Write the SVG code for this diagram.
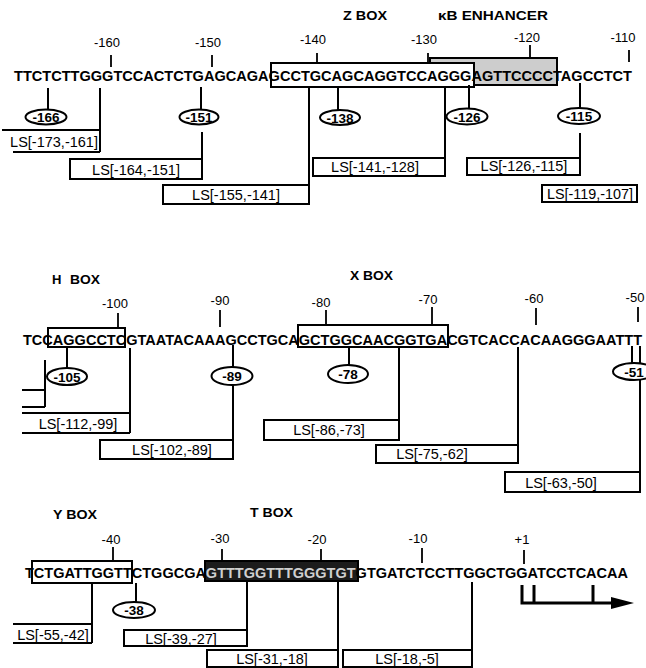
<svg xmlns="http://www.w3.org/2000/svg" width="646" height="668" viewBox="0 0 646 668">
<style>
.seq{font-family:"Liberation Sans",Arial,sans-serif;font-weight:bold;font-size:14.3px;fill:#000}
.tl{font-family:"Liberation Sans",Arial,sans-serif;font-size:13px;text-anchor:middle;fill:#000}
.el{font-family:"Liberation Sans",Arial,sans-serif;font-weight:bold;font-size:13.5px;text-anchor:middle;fill:#000}
.ls{font-family:"Liberation Sans",Arial,sans-serif;font-size:14.5px;text-anchor:middle;fill:#000}
.bl{font-family:"Liberation Sans",Arial,sans-serif;font-weight:bold;font-size:13px;fill:#000}
.ln{stroke:#000;stroke-width:2;fill:none}
.tk{stroke:#000;stroke-width:1.8;fill:none}
.box{fill:#fff;stroke:#000;stroke-width:2}
.ell{fill:#fff;stroke:#000;stroke-width:2}
</style>
<rect width="646" height="668" fill="#fff"/>

<!-- region boxes -->
<g id="kb-box"><rect x="430" y="58" width="127" height="27" fill="#cdcdcd" stroke="#000" stroke-width="2"/>
<text class="bl" x="438" y="20" textLength="110" lengthAdjust="spacingAndGlyphs">κB ENHANCER</text></g>
<g id="z-box"><rect x="271" y="63" width="203" height="24" class="box"/>
<text class="bl" x="343" y="20" textLength="44" lengthAdjust="spacingAndGlyphs">Z BOX</text></g>
<g id="h-box"><rect x="48" y="328" width="77" height="19" class="box"/>
<text class="bl" y="284"><tspan x="52">H</tspan><tspan x="70" textLength="30" lengthAdjust="spacingAndGlyphs">BOX</tspan></text></g>
<g id="x-box"><rect x="298" y="325" width="150" height="22" class="box"/>
<text class="bl" x="350" y="280" textLength="43" lengthAdjust="spacingAndGlyphs">X BOX</text></g>
<g id="y-box"><rect x="32" y="561" width="100" height="22" class="box"/>
<text class="bl" x="53" y="519" textLength="44" lengthAdjust="spacingAndGlyphs">Y BOX</text></g>
<g id="t-box"><rect x="205" y="561" width="153" height="20" fill="#1c1c1c" stroke="#000" stroke-width="2"/>
<text class="bl" x="250" y="517" textLength="43" lengthAdjust="spacingAndGlyphs">T BOX</text></g>

<!-- sequences -->
<g id="seq1"><text class="seq" x="14" y="81" textLength="618" lengthAdjust="spacingAndGlyphs">TTCTCTTGGGTCCACTCTGAGCAGAGCCTGCAGCAGGTCCAGGGAGTTCCCCTAGCCTCT</text>
<text class="tl" x="107" y="47">-160</text><text class="tl" x="208" y="47">-150</text><text class="tl" x="313" y="44">-140</text>
<text class="tl" x="424" y="44">-130</text><text class="tl" x="527" y="42">-120</text><text class="tl" x="623" y="42">-110</text></g>
<g id="seq2"><text class="seq" x="23" y="344.5" textLength="619" lengthAdjust="spacingAndGlyphs">TCCAGGCCTCGTAATACAAAGCCTGCAGCTGGCAACGGTGACGTCACCACAAGGGAATTT</text>
<text class="tl" x="115" y="308">-100</text><text class="tl" x="220" y="305">-90</text><text class="tl" x="321" y="307">-80</text>
<text class="tl" x="428" y="304">-70</text><text class="tl" x="534" y="303">-60</text><text class="tl" x="635" y="302">-50</text></g>
<g id="seq3"><text class="seq" x="25" y="578" textLength="603" lengthAdjust="spacingAndGlyphs">TCTGATTGGTTCTGGCGA<tspan fill="#cfcfcf">GTTTGGTTTGGGTGT</tspan>GTGATCTCCTTGGCTGGATCCTCACAA</text>
<text class="tl" x="111" y="544">-40</text><text class="tl" x="220" y="543">-30</text><text class="tl" x="317" y="544">-20</text>
<text class="tl" x="418" y="543">-10</text><text class="tl" x="522" y="544">+1</text></g>

<!-- connectors -->
<g id="connectors">
<path class="tk" d="M111 55V67M212 55V67M317 53V63M428 53V63M530 45V58M629 50V62"/>
<path class="tk" d="M118 313V328M220 310V327M326 310V325M432 307V325M536 308V325M638 307V322"/>
<path class="tk" d="M113 547V561M222 549V561M321 549V561M422 548V563M524 550V564"/>
<path class="ln" d="M48 88V110M100 88V152M201 87V110M202 132V179M309 87V185M338 87V110M445 87V158M469 85V108M580 83V108M580 133V175"/>
<path class="ln" d="M45 360V407M67 347V368M130 348V433M233 345V367M233 385V459M349 347V365M399 347V440M518 347V463M632 346V363M640 346V492"/>
<path class="ln" d="M92 583V643M136 583V602M247 581V646M338 581V667M472 582V667"/>
<path class="ln" d="M22 390H45M22 407H45"/>
<g id="tss"><path d="M522 585V603H614M534 585V603M593 585V603" stroke="#000" stroke-width="3" fill="none"/>
<polygon points="611,597 634,603 611,609" fill="#000"/></g>
</g>

<!-- ellipse nodes -->
<g id="e-166"><ellipse class="ell" cx="46" cy="117" rx="20.5" ry="7.5"/><text class="el" x="46" y="122">-166</text></g>
<g id="e-151"><ellipse class="ell" cx="199" cy="117" rx="19.5" ry="7.5"/><text class="el" x="199" y="122">-151</text></g>
<g id="e-138"><ellipse class="ell" cx="340" cy="117.5" rx="20" ry="7.5"/><text class="el" x="340" y="122.5">-138</text></g>
<g id="e-126"><ellipse class="ell" cx="467" cy="116.5" rx="20.5" ry="8"/><text class="el" x="467" y="121.5">-126</text></g>
<g id="e-115"><ellipse class="ell" cx="579" cy="116" rx="21" ry="8"/><text class="el" x="579" y="121">-115</text></g>
<g id="e-105"><ellipse class="ell" cx="67" cy="376.5" rx="20" ry="8.5"/><text class="el" x="67" y="381.5">-105</text></g>
<g id="e-89"><ellipse class="ell" cx="232" cy="376" rx="20.5" ry="9"/><text class="el" x="232" y="381">-89</text></g>
<g id="e-78"><ellipse class="ell" cx="348" cy="374" rx="20" ry="9"/><text class="el" x="348" y="379">-78</text></g>
<g id="e-51"><ellipse class="ell" cx="634" cy="371.5" rx="21" ry="8.5"/><text class="el" x="634" y="376.5">-51</text></g>
<g id="e-38"><ellipse class="ell" cx="134" cy="610" rx="21" ry="8"/><text class="el" x="134" y="615">-38</text></g>

<!-- LS nodes -->
<g id="ls-173-161"><path class="ln" d="M2 130H100M13 152H100"/><text class="ls" x="54" y="147">LS[-173,-161]</text></g>
<g id="ls-164-151"><rect class="box" x="70" y="159" width="132" height="20"/><text class="ls" x="136" y="175">LS[-164,-151]</text></g>
<g id="ls-155-141"><rect class="box" x="163" y="185" width="146" height="19"/><text class="ls" x="236" y="200">LS[-155,-141]</text></g>
<g id="ls-141-128"><rect class="box" x="313" y="158" width="132" height="18"/><text class="ls" x="375" y="172">LS[-141,-128]</text></g>
<g id="ls-126-115"><rect class="box" x="467" y="158" width="113" height="17"/><text class="ls" x="524" y="171">LS[-126,-115]</text></g>
<g id="ls-119-107"><rect class="box" x="542" y="185" width="95" height="17"/><text class="ls" x="590" y="199" textLength="86" lengthAdjust="spacingAndGlyphs">LS[-119,-107]</text></g>
<g id="ls-112-99"><path class="ln" d="M22 413H130M22 433H130"/><text class="ls" x="78" y="429">LS[-112,-99]</text></g>
<g id="ls-102-89"><rect class="box" x="100" y="440" width="133" height="19"/><text class="ls" x="172" y="455">LS[-102,-89]</text></g>
<g id="ls-86-73"><rect class="box" x="264" y="420" width="135" height="20"/><text class="ls" x="329" y="435">LS[-86,-73]</text></g>
<g id="ls-75-62"><rect class="box" x="376" y="445" width="142" height="18"/><text class="ls" x="432" y="459">LS[-75,-62]</text></g>
<g id="ls-63-50"><rect class="box" x="505" y="472" width="135" height="20"/><text class="ls" x="561" y="488">LS[-63,-50]</text></g>
<g id="ls-55-42"><path class="ln" d="M13 624H92M13 643H92"/><text class="ls" x="53" y="640">LS[-55,-42]</text></g>
<g id="ls-39-27"><rect class="box" x="124" y="630" width="123" height="16"/><text class="ls" x="181" y="644">LS[-39,-27]</text></g>
<g id="ls-31-18"><rect class="box" x="207" y="650" width="131" height="17"/><text class="ls" x="272" y="664">LS[-31,-18]</text></g>
<g id="ls-18-5"><rect class="box" x="343" y="650" width="129" height="17"/><text class="ls" x="407" y="664">LS[-18,-5]</text></g>
</svg>
